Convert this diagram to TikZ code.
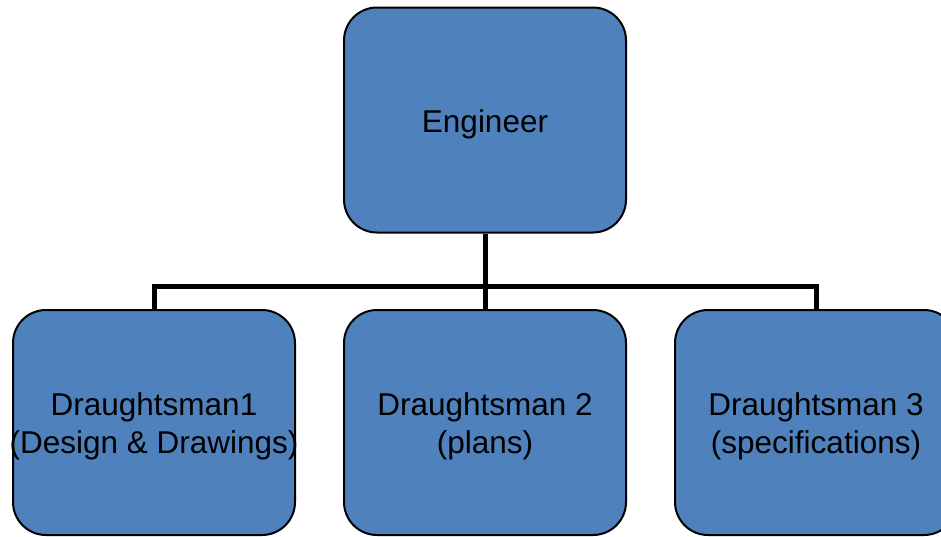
\documentclass[tikz,border=0pt]{standalone}
\usepackage{fontspec}
\setmainfont{Liberation Sans}
\definecolor{boxblue}{HTML}{4F81BD}
\tikzset{
  rolebox/.style={draw=black, line width=2pt, fill=boxblue, rounded corners=33pt,
    minimum width=282pt, minimum height=225pt, inner sep=0pt},
  roletext/.style={align=center, inner sep=0pt, yshift=-4pt,
    font=\fontsize{31.5}{37.5}\selectfont},
  conn/.style={line width=5pt, line join=miter}
}
\begin{document}
\begin{tikzpicture}[x=1pt,y=-1pt]
  \useasboundingbox (0,0) rectangle (941,536);
  % boxes with their captions centred slightly below the middle
  \node[rolebox, label={[roletext]center:Engineer}] (eng) at (485,120) {};
  \node[rolebox, label={[roletext]center:{Draughtsman1\\(Design \& Drawings)}}] (d1) at (154,422.5) {};
  \node[rolebox, label={[roletext]center:{Draughtsman 2\\(plans)}}] (d2) at (485,422.5) {};
  \node[rolebox, label={[roletext]center:{Draughtsman 3\\(specifications)}}] (d3) at (816,422.5) {};
  % organisation tree connectors
  \coordinate (bus) at (485,286);
  \draw[conn] (eng.south) -- (bus) -- (d2.north);
  \draw[conn] (d1.north) |- (bus) -| (d3.north);
\end{tikzpicture}
\end{document}
